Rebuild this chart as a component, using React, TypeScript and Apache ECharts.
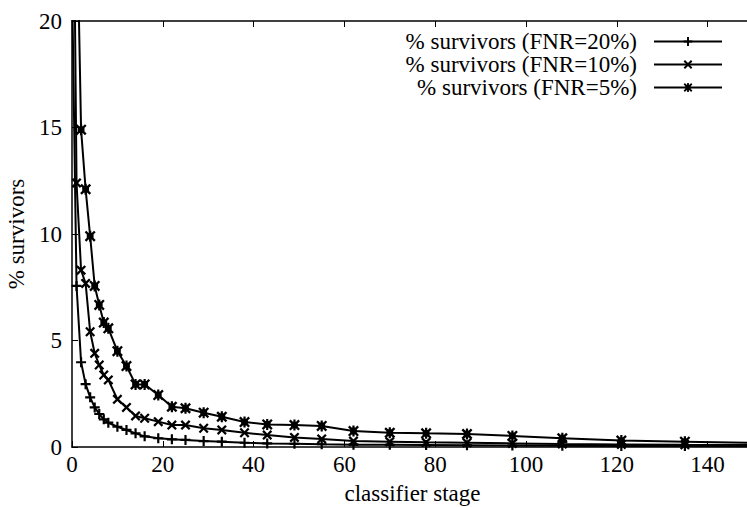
import React, { useEffect, useRef } from "react";
import * as echarts from "echarts";

const stagesA = [0, 1, 2, 3, 4, 5, 6, 7, 8, 10, 12, 14, 16, 19, 22, 25, 29, 33, 38, 43, 49, 55, 62, 70, 78, 87, 97, 108, 121, 135, 150];
const fnr20 = [22, 7.56, 3.98, 2.95, 2.33, 1.86, 1.55, 1.3, 1.14, 0.95, 0.8, 0.64, 0.5, 0.41, 0.36, 0.33, 0.28, 0.25, 0.2, 0.17, 0.15, 0.13, 0.11, 0.1, 0.09, 0.08, 0.07, 0.06, 0.05, 0.05, 0.04];
const fnr10 = [35, 12.4, 8.3, 7.68, 5.41, 4.4, 3.85, 3.38, 3.15, 2.24, 1.86, 1.46, 1.35, 1.19, 1.03, 1.03, 0.88, 0.8, 0.67, 0.56, 0.45, 0.38, 0.28, 0.25, 0.22, 0.2, 0.17, 0.14, 0.12, 0.1, 0.09];
const stagesB = [1, 2, 3, 4, 5, 6, 7, 8, 10, 12, 14, 16, 19, 22, 25, 29, 33, 38, 43, 49, 55, 62, 70, 78, 87, 97, 108, 121, 135, 150];
const fnr5 = [26, 14.9, 12.1, 9.9, 7.56, 6.67, 5.84, 5.57, 4.5, 3.8, 2.94, 2.94, 2.44, 1.89, 1.82, 1.61, 1.42, 1.17, 1.06, 1.03, 0.99, 0.75, 0.67, 0.64, 0.61, 0.52, 0.41, 0.3, 0.25, 0.2];

const seriesNames = ["% survivors (FNR=20%)", "% survivors (FNR=10%)", "% survivors (FNR=5%)"];
const xTicks = [0, 20, 40, 60, 80, 100, 120, 140];
const yTicks = [0, 5, 10, 15, 20];

const PLUS = "path://M-1,-0.22 L-0.22,-0.22 L-0.22,-1 L0.22,-1 L0.22,-0.22 L1,-0.22 L1,0.22 L0.22,0.22 L0.22,1 L-0.22,1 L-0.22,0.22 L-1,0.22 Z";
const CROSS = "path://M-1,-0.68 L-0.68,-1 L0,-0.32 L0.68,-1 L1,-0.68 L0.32,0 L1,0.68 L0.68,1 L0,0.32 L-0.68,1 L-1,0.68 L-0.32,0 Z";
const STAR = "path://M-1,-0.7 L-0.7,-1 L0,-0.3 L0.7,-1 L1,-0.7 L0.3,0 L1,0.7 L0.7,1 L0,0.3 L-0.7,1 L-1,0.7 L-0.3,0 Z M-0.62,-0.62 L0.62,-0.62 L0.62,0.62 L-0.62,0.62 Z M-0.2,-1 L0.2,-1 L0.2,1 L-0.2,1 Z";

const FONT = "Liberation Serif";

export default function App() {
  const ref = useRef<HTMLDivElement>(null);
  useEffect(() => {
    if (!ref.current) return;
    const chart = echarts.init(ref.current, null, { renderer: "svg" });
    const pair = (xs: number[], ys: number[]) => xs.map((x, i) => [x, ys[i]]);
    const mk = (name: string, data: number[][], symbol: string, size: number) => ({
      name,
      type: "line",
      data,
      symbol,
      symbolSize: size,
      showAllSymbol: true,
      clip: true,
      lineStyle: { color: "#000", width: 2 },
      itemStyle: { color: "#000" },
      emphasis: { disabled: true },
    });
    chart.setOption({
      animation: false,
      backgroundColor: "#fff",
      textStyle: { fontFamily: FONT, color: "#000" },
      grid: { left: 72, top: 21, width: 681, height: 426, containLabel: false, outerBoundsMode: "none" },
      legend: {
        orient: "vertical",
        right: 24,
        top: 30,
        padding: 0,
        align: "right",
        itemWidth: 68,
        itemHeight: 11,
        itemGap: 0,
        textStyle: { fontFamily: FONT, fontSize: 23, color: "#000", lineHeight: 23, padding: [0, 12, 0, 0] },
        data: seriesNames,
      },
      xAxis: [
        {
          type: "value",
          min: 0,
          max: 150,
          interval: 20,
          name: "classifier stage",
          nameLocation: "middle",
          nameGap: 35,
          nameTextStyle: { fontFamily: FONT, fontSize: 23, color: "#000" },
          axisLine: { show: true, lineStyle: { color: "#000", width: 1.5 } },
          axisTick: { show: true, inside: true, length: 6, lineStyle: { color: "#000" } },
          axisLabel: {
            show: true,
            margin: 6,
            fontFamily: FONT,
            fontSize: 23,
            color: "#000",
            showMaxLabel: false,
            formatter: (v: number) => (xTicks.includes(v) ? String(v) : ""),
          },
          splitLine: { show: false },
        },
        {
          type: "value",
          position: "top",
          min: 0,
          max: 150,
          interval: 20,
          axisLine: { show: true, lineStyle: { color: "#000", width: 1.5 } },
          axisTick: { show: true, inside: true, length: 6, lineStyle: { color: "#000" } },
          axisLabel: { show: false },
          splitLine: { show: false },
        },
      ],
      yAxis: {
        type: "value",
        min: 0,
        max: 20,
        interval: 5,
        name: "% survivors",
        nameLocation: "middle",
        nameGap: 38,
        nameTextStyle: { fontFamily: FONT, fontSize: 23, color: "#000" },
        axisLine: { show: true, lineStyle: { color: "#000", width: 1.5 } },
        axisTick: { show: true, inside: true, length: 6, lineStyle: { color: "#000" } },
        axisLabel: {
          margin: 10,
          fontFamily: FONT,
          fontSize: 23,
          color: "#000",
          formatter: (v: number) => (yTicks.includes(v) ? String(v) : ""),
        },
        splitLine: { show: false },
      },
      series: [
        mk(seriesNames[0], pair(stagesA, fnr20), PLUS, 10),
        mk(seriesNames[1], pair(stagesA, fnr10), CROSS, 10),
        mk(seriesNames[2], pair(stagesB, fnr5), STAR, 11),
      ],
    });
    return () => chart.dispose();
  }, []);
  return <div ref={ref} style={{ width: 747, height: 507, position: "absolute", left: 0, top: 0 }} />;
}
